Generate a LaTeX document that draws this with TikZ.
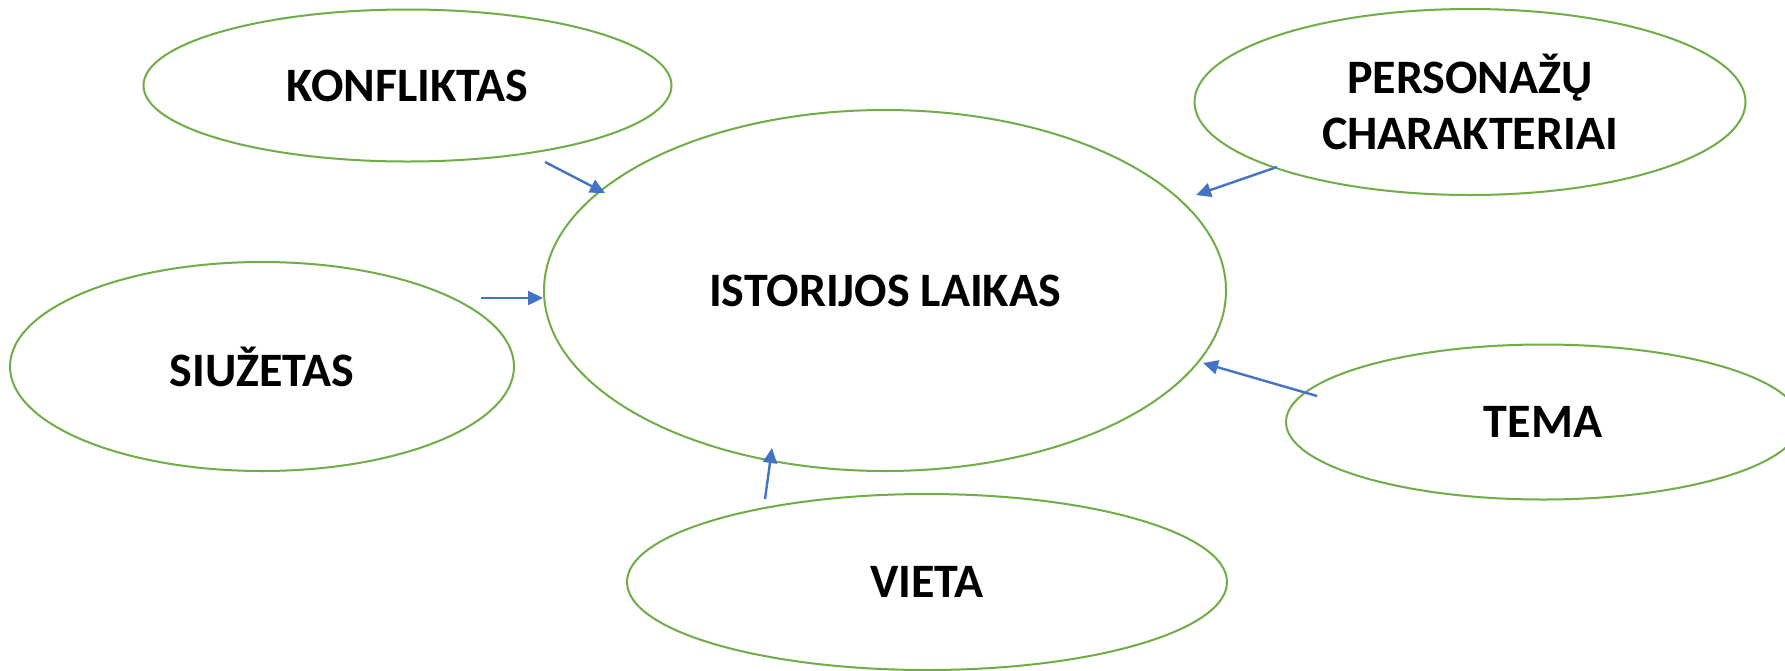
\documentclass[tikz,border=0pt]{standalone}
\usepackage{fontspec}
\setmainfont{Carlito}
\usetikzlibrary{shapes.geometric,arrows.meta}
\definecolor{egreen}{HTML}{70AD47}
\definecolor{ablue}{HTML}{4472C4}
\begin{document}
\begin{tikzpicture}[x=1pt,y=-1pt,
  bub/.style={ellipse,draw=egreen,line width=2pt,inner sep=0pt,
    font=\fontsize{48}{56}\selectfont\bfseries,align=center},
  arr/.style={draw=ablue,line width=2.4pt,-{Triangle[length=15pt,width=14pt]}}]
\useasboundingbox (0,0) rectangle (1785,670);
\fill[white] (0,0) rectangle (1785,670);
\begin{scope}
\clip (0,0) rectangle (1785,670);
\node[bub,minimum width=682pt,minimum height=361pt] (main) at (885,290.5) {ISTORIJOS LAIKAS};
\node[bub,minimum width=528pt,minimum height=152pt] (konf) at (407.5,85.5) {KONFLIKTAS};
\node[bub,minimum width=551pt,minimum height=186pt] (pers) at (1470,102) {PERSONAŽŲ\\CHARAKTERIAI};
\node[bub,minimum width=504pt,minimum height=209pt] (siuz) at (262,366.5) {SIUŽETAS};
\node[bub,minimum width=514pt,minimum height=155pt] (tema) at (1543,422) {TEMA};
\node[bub,minimum width=600pt,minimum height=176pt] (vieta) at (927,582) {VIETA};
\end{scope}
\draw[arr] ([shift={(137.5,76.5)}]konf.center) -- ([shift={(-280,-97.5)}]main.center);
\draw[arr] ([shift={(-193,65)}]pers.center) -- ([shift={(311,-95.5)}]main.center);
\draw[arr] ([shift={(-162,-83)}]vieta.center) -- ([shift={(-113,157.5)}]main.center);
\draw[arr] ([shift={(-226,-26)}]tema.center) -- ([shift={(318,72.5)}]main.center);
\draw[arr] ([shift={(219,-68.5)}]siuz.center) -- ([shift={(-342,7.5)}]main.center);
\end{tikzpicture}
\end{document}
